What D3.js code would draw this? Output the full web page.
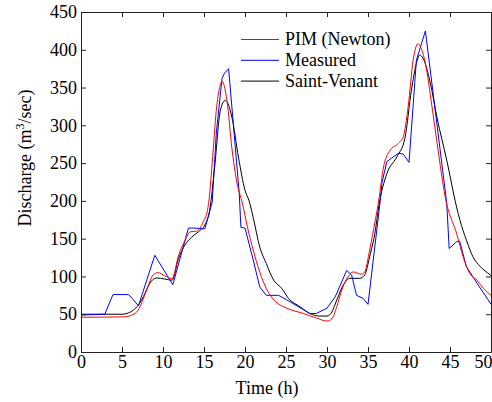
<!DOCTYPE html>
<html>
<head>
<meta charset="utf-8">
<script src="https://cdn.jsdelivr.net/npm/d3@7"></script>
<style>
  body { margin: 0; background: #fff; }
  svg { display: block; font-family: "Liberation Serif", "Times New Roman", serif; }
</style>
</head>
<body>
<div id="chart"></div>
<script>
const width = 492, height = 402;

// series: [time (h), discharge (m3/sec)]
const pim = [
  [0, 46], [5.2, 46.5], [6.6, 51], [7.2, 60], [8.0, 82], [8.8, 102], [9.4, 105],
  [10.2, 101], [11.1, 97], [11.9, 128], [12.7, 148], [13.3, 159], [14.1, 160],
  [14.9, 172], [15.5, 192], [16.0, 250], [16.5, 320], [16.9, 350], [17.2, 358],
  [17.8, 333], [18.4, 270], [19.0, 225], [19.7, 196], [20.3, 165], [21.0, 135],
  [21.8, 106], [22.6, 84], [23.7, 67], [25.1, 58], [27.1, 51], [28.7, 45],
  [30.0, 41], [30.6, 44], [31.2, 60], [31.8, 82], [32.6, 100], [33.2, 106],
  [34.2, 103], [34.6, 106], [35.2, 135], [35.9, 175], [36.3, 200], [36.9, 245],
  [37.7, 267], [38.7, 276], [39.3, 285], [39.9, 325], [40.5, 386], [41.1, 408],
  [41.4, 404], [42.0, 382], [42.8, 325], [43.6, 263], [44.4, 206], [45.8, 157],
  [46.6, 126], [47.4, 104], [48.3, 95], [49.1, 84], [50, 75]
];
const measured = [
  [0, 49], [2.9, 50], [3.9, 76], [5.8, 76], [6.4, 69], [7.0, 61], [9.0, 128],
  [11.2, 89], [13.1, 164], [13.8, 164], [15.1, 163], [16.0, 198], [16.5, 290],
  [17.2, 362], [17.5, 369], [18.0, 375], [19.3, 210], [19.5, 165], [20.0, 164],
  [21.0, 122], [21.8, 86], [22.6, 75], [24.1, 75], [25.1, 69], [27.9, 51],
  [28.7, 51], [30.0, 58], [31.0, 73], [32.4, 108], [33.0, 102], [33.6, 75],
  [34.4, 71], [35.0, 63], [36.5, 201], [36.7, 224], [37.3, 252], [38.7, 263],
  [39.3, 262], [40.0, 251], [40.9, 386], [42.0, 425], [44.6, 197], [44.9, 137],
  [45.8, 146], [46.2, 146], [47.0, 113], [48.3, 91], [49.9, 65], [50, 63]
];
const saintVenant = [
  [0, 50], [5.0, 50], [5.6, 51], [6.4, 55.6], [7.0, 62], [7.6, 73], [8.4, 91],
  [9.2, 98], [10.2, 96.6], [11.1, 95], [11.9, 124], [12.7, 142], [13.5, 152],
  [14.3, 159], [15.1, 168], [15.7, 188], [16.3, 245], [17.0, 320], [17.6, 333],
  [18.4, 311], [19.2, 258], [20.0, 214], [20.5, 200], [21.0, 178], [21.8, 139],
  [22.6, 117], [23.5, 95], [24.5, 84], [25.3, 71], [26.7, 60], [27.9, 51],
  [29.1, 47.6], [30.0, 47.6], [30.6, 53], [31.2, 69], [32.0, 89], [32.8, 97.5],
  [34.0, 97.5], [34.6, 102], [35.2, 126], [35.9, 161], [36.3, 192], [37.3, 236],
  [38.5, 258], [39.5, 283], [40.3, 347], [40.9, 382], [41.3, 393], [41.7, 389],
  [42.6, 356], [43.4, 311], [44.6, 254], [45.8, 192], [46.2, 175], [47.0, 148],
  [47.8, 126], [48.7, 113], [49.9, 102], [50, 101]
];

const xTicks = [0, 5, 10, 15, 20, 25, 30, 35, 40, 45, 50];
const yTicks = [0, 50, 100, 150, 200, 250, 300, 350, 400, 450];

const legendItems = [
  { name: "PIM (Newton)", color: "#ff0000" },
  { name: "Measured", color: "#0000ff" },
  { name: "Saint-Venant", color: "#000000" }
];

const plotLeft = 81, plotRight = 491, plotTop = 12, plotBottom = 352;

const x = d3.scaleLinear().domain([0, 50]).range([plotLeft, plotRight]);
const y = d3.scaleLinear().domain([0, 450]).range([plotBottom, plotTop]);

const svg = d3.select("#chart").append("svg")
  .attr("width", width)
  .attr("height", height);

// lines first, frame on top
const smooth = d3.line().x(d => x(d[0])).y(d => y(d[1])).curve(d3.curveMonotoneX);
const straight = d3.line().x(d => x(d[0])).y(d => y(d[1]));

svg.append("path").datum(saintVenant)
  .attr("d", smooth).attr("fill", "none").attr("stroke", "#000").attr("stroke-width", 1);
svg.append("path").datum(measured)
  .attr("d", straight).attr("fill", "none").attr("stroke", "#0000ff").attr("stroke-width", 1);
svg.append("path").datum(pim)
  .attr("d", smooth).attr("fill", "none").attr("stroke", "#ff0000").attr("stroke-width", 1);

function styleAxis(g) {
  g.selectAll("path, line").attr("stroke", "#222");
  g.selectAll("text").attr("fill", "#000").style("font-size", "18px")
    .style("font-family", "'Liberation Serif', 'Times New Roman', serif");
}

const xAxisG = svg.append("g").attr("transform", `translate(0,${plotBottom})`)
  .call(d3.axisBottom(x).tickValues(xTicks).tickSizeInner(-5).tickSizeOuter(0).tickPadding(3))
  .call(styleAxis);
// last label sits at the page edge: keep it inside
xAxisG.selectAll(".tick").filter(d => d === 50).select("text")
  .attr("text-anchor", "end").attr("x", width - plotRight);

svg.append("g").attr("transform", `translate(${plotLeft},0)`)
  .call(d3.axisLeft(y).tickValues(yTicks).tickSizeInner(-5).tickSizeOuter(0).tickPadding(4))
  .call(styleAxis);
svg.append("g").attr("transform", `translate(0,${plotTop})`)
  .call(d3.axisTop(x).tickValues(xTicks).tickSizeInner(-5).tickSizeOuter(0).tickFormat(""))
  .call(styleAxis);
svg.append("g").attr("transform", `translate(${plotRight},0)`)
  .call(d3.axisRight(y).tickValues(yTicks).tickSizeInner(-5).tickSizeOuter(0).tickFormat(""))
  .call(styleAxis);

// axis titles
svg.append("text")
  .attr("x", 267).attr("y", 394)
  .attr("text-anchor", "middle")
  .style("font-size", "18px")
  .text("Time (h)");

const yTitle = svg.append("text")
  .attr("transform", "translate(31,158) rotate(-90)")
  .attr("text-anchor", "middle")
  .style("font-size", "18px");
yTitle.append("tspan").text("Discharge (m");
yTitle.append("tspan").attr("dy", -7).style("font-size", "12px").text("3");
yTitle.append("tspan").attr("dy", 7).text("/sec)");

// legend
const legend = svg.append("g");
legendItems.forEach((item, i) => {
  const ly = 39.5 + i * 20.8;
  legend.append("line")
    .attr("x1", 241).attr("x2", 279)
    .attr("y1", ly).attr("y2", ly)
    .attr("stroke", item.color).attr("stroke-width", 1);
  legend.append("text")
    .attr("x", 285).attr("y", ly + 5.5)
    .style("font-size", "18px")
    .text(item.name);
});
</script>
</body>
</html>
